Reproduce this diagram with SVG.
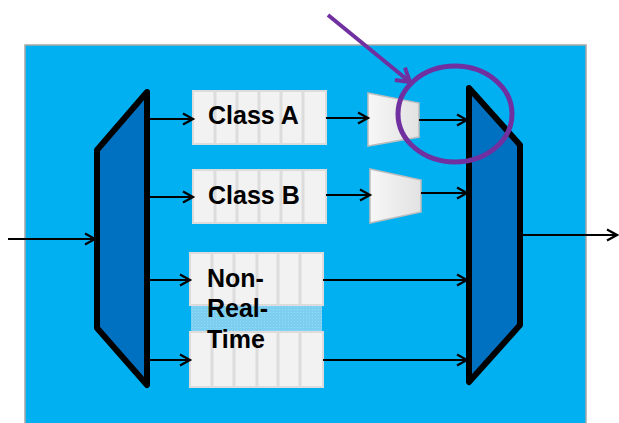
<svg xmlns="http://www.w3.org/2000/svg" width="619" height="423" viewBox="0 0 619 423">
<defs>
<marker id="ah" markerWidth="14" markerHeight="14" refX="11" refY="7" orient="auto" markerUnits="userSpaceOnUse">
<path d="M1,1.5 L11,7 L1,12.5" fill="none" stroke="#000" stroke-width="2.2"/>
</marker>
<marker id="ahp" markerWidth="20" markerHeight="20" refX="16" refY="10" orient="auto" markerUnits="userSpaceOnUse">
<path d="M3,2 L16,10 L3,18" fill="none" stroke="#7030a0" stroke-width="4"/>
</marker>
<linearGradient id="tg" x1="0" y1="0" x2="1" y2="0">
<stop offset="0" stop-color="#f7f7f7"/>
<stop offset="1" stop-color="#e2e2e2"/>
</linearGradient>
<pattern id="dots" width="3" height="3" patternUnits="userSpaceOnUse">
<rect width="3" height="3" fill="#7ccff0"/>
<rect width="1" height="1" fill="#9adbf4"/>
</pattern>
</defs>
<style>
.q{fill:#f2f2f2;stroke:#dcdcdc;stroke-width:2}
.d{stroke:#dcdcdc;stroke-width:3}
.lbl{font-family:"Liberation Sans",Arial,sans-serif;font-weight:bold;font-size:25px;fill:#000}
.c{stroke:#000;stroke-width:2.2;fill:none;marker-end:url(#ah)}
.mux{fill:#0070c0;stroke:#000;stroke-width:6;stroke-linejoin:round}
.tr{fill:url(#tg);stroke:#bdbdbd;stroke-width:1.5}
</style>
<rect id="bg" x="25" y="45" width="561" height="380" fill="#00b0f0" stroke="#a6a6a6" stroke-width="1.5"/>
<g id="demux"><polygon class="mux" points="147,92 97,150 97,328 147,385"/></g>
<g id="mux"><polygon class="mux" points="469,88 520,145 520,325 469,382"/></g>
<g id="classA">
<rect class="q" x="193" y="91" width="133" height="53"/>
<line class="d" x1="215" y1="92" x2="215" y2="143"/><line class="d" x1="237" y1="92" x2="237" y2="143"/><line class="d" x1="259" y1="92" x2="259" y2="143"/><line class="d" x1="281" y1="92" x2="281" y2="143"/><line class="d" x1="303" y1="92" x2="303" y2="143"/>
<text class="lbl" x="208" y="124">Class A</text>
</g>
<g id="classB">
<rect class="q" x="193" y="170" width="133" height="53"/>
<line class="d" x1="215" y1="171" x2="215" y2="222"/><line class="d" x1="237" y1="171" x2="237" y2="222"/><line class="d" x1="259" y1="171" x2="259" y2="222"/><line class="d" x1="281" y1="171" x2="281" y2="222"/><line class="d" x1="303" y1="171" x2="303" y2="222"/>
<text class="lbl" x="208" y="204">Class B</text>
</g>
<g id="nrt">
<rect x="191" y="305" width="131" height="27" fill="url(#dots)"/>
<rect class="q" x="190" y="253" width="133" height="52"/>
<line class="d" x1="212" y1="254" x2="212" y2="304"/><line class="d" x1="234" y1="254" x2="234" y2="304"/><line class="d" x1="257" y1="254" x2="257" y2="304"/><line class="d" x1="278" y1="254" x2="278" y2="304"/><line class="d" x1="300" y1="254" x2="300" y2="304"/>
<rect class="q" x="190" y="332" width="133" height="55"/>
<line class="d" x1="212" y1="333" x2="212" y2="386"/><line class="d" x1="234" y1="333" x2="234" y2="386"/><line class="d" x1="257" y1="333" x2="257" y2="386"/><line class="d" x1="278" y1="333" x2="278" y2="386"/><line class="d" x1="300" y1="333" x2="300" y2="386"/>
<text class="lbl" x="207" y="287">Non-</text>
<text class="lbl" x="207" y="317">Real-</text>
<text class="lbl" x="207" y="348">Time</text>
</g>
<g id="shaperA"><polygon class="tr" points="368,93 419,103 419,137 368,146"/></g>
<g id="shaperB"><polygon class="tr" points="370,169 421,180 421,212 370,223"/></g>
<g id="connectors">
<line class="c" x1="8" y1="239" x2="95" y2="239"/>
<line class="c" x1="149" y1="119" x2="193" y2="119"/>
<line class="c" x1="149" y1="197" x2="193" y2="197"/>
<line class="c" x1="149" y1="280" x2="190" y2="280"/>
<line class="c" x1="149" y1="360" x2="190" y2="360"/>
<line class="c" x1="326" y1="118" x2="368" y2="118"/>
<line class="c" x1="326" y1="195" x2="370" y2="195"/>
<line class="c" x1="419" y1="120" x2="467" y2="120"/>
<line class="c" x1="421" y1="193" x2="467" y2="193"/>
<line class="c" x1="323" y1="280" x2="467" y2="280"/>
<line class="c" x1="323" y1="360" x2="467" y2="360"/>
<line class="c" x1="522" y1="235" x2="617" y2="235"/>
<line x1="328" y1="15" x2="410" y2="82" stroke="#7030a0" stroke-width="4" marker-end="url(#ahp)"/>
</g>
<g id="highlight"><ellipse cx="455" cy="114" rx="57" ry="48" fill="none" stroke="#7030a0" stroke-width="5"/></g>
</svg>
